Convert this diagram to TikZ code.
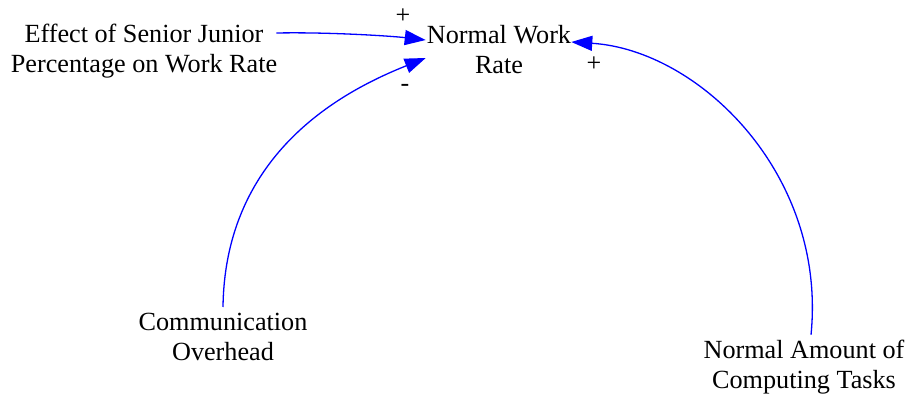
\documentclass[tikz,border=0pt]{standalone}
\usepackage{fontspec}
\setmainfont{Liberation Serif}
\usetikzlibrary{arrows.meta}
\begin{document}
\begin{tikzpicture}[x=1pt,y=-1pt,
  lbl/.style={font=\fontsize{26.2}{30}\selectfont, align=center, inner sep=0pt},
  sgn/.style={font=\fontsize{26}{30}\selectfont, inner sep=0pt},
  link/.style={draw=blue, line width=1.3pt, -{Triangle[length=21pt,width=15pt]}}]
\useasboundingbox (0,0) rectangle (909,395);
\node[lbl] (nwr) at (499,49.5) {Normal Work\\Rate};
\node[lbl] (eff) at (144,51.5) {Effect of Senior Junior\\Percentage on Work Rate};
\node[lbl] (com) at (223,337) {Communication\\Overhead};
\node[lbl] (nca) at (804,367) {Normal Amount of\\Computing Tasks};
\node[sgn] (p1) at (403,16) {+};
\node[sgn] (m1) at (405,88) {-};
\node[sgn] (p2) at (594,64) {+};
\draw[link] ([shift={(-1,-18.5)}]eff.east) .. controls +(53,-1) and +(-35,-4) .. ([shift={(-1,-9.5)}]nwr.west);
\draw[link] ([shift={(0,-6)}]com.north) .. controls +(2,-156) and +(-80,32) .. ([shift={(-1,8.5)}]nwr.west);
\draw[link] ([shift={(7,-5)}]nca.north) .. controls +(16,-160) and +(128,8) .. ([shift={(0,-7.5)}]nwr.east);
\end{tikzpicture}
\end{document}
